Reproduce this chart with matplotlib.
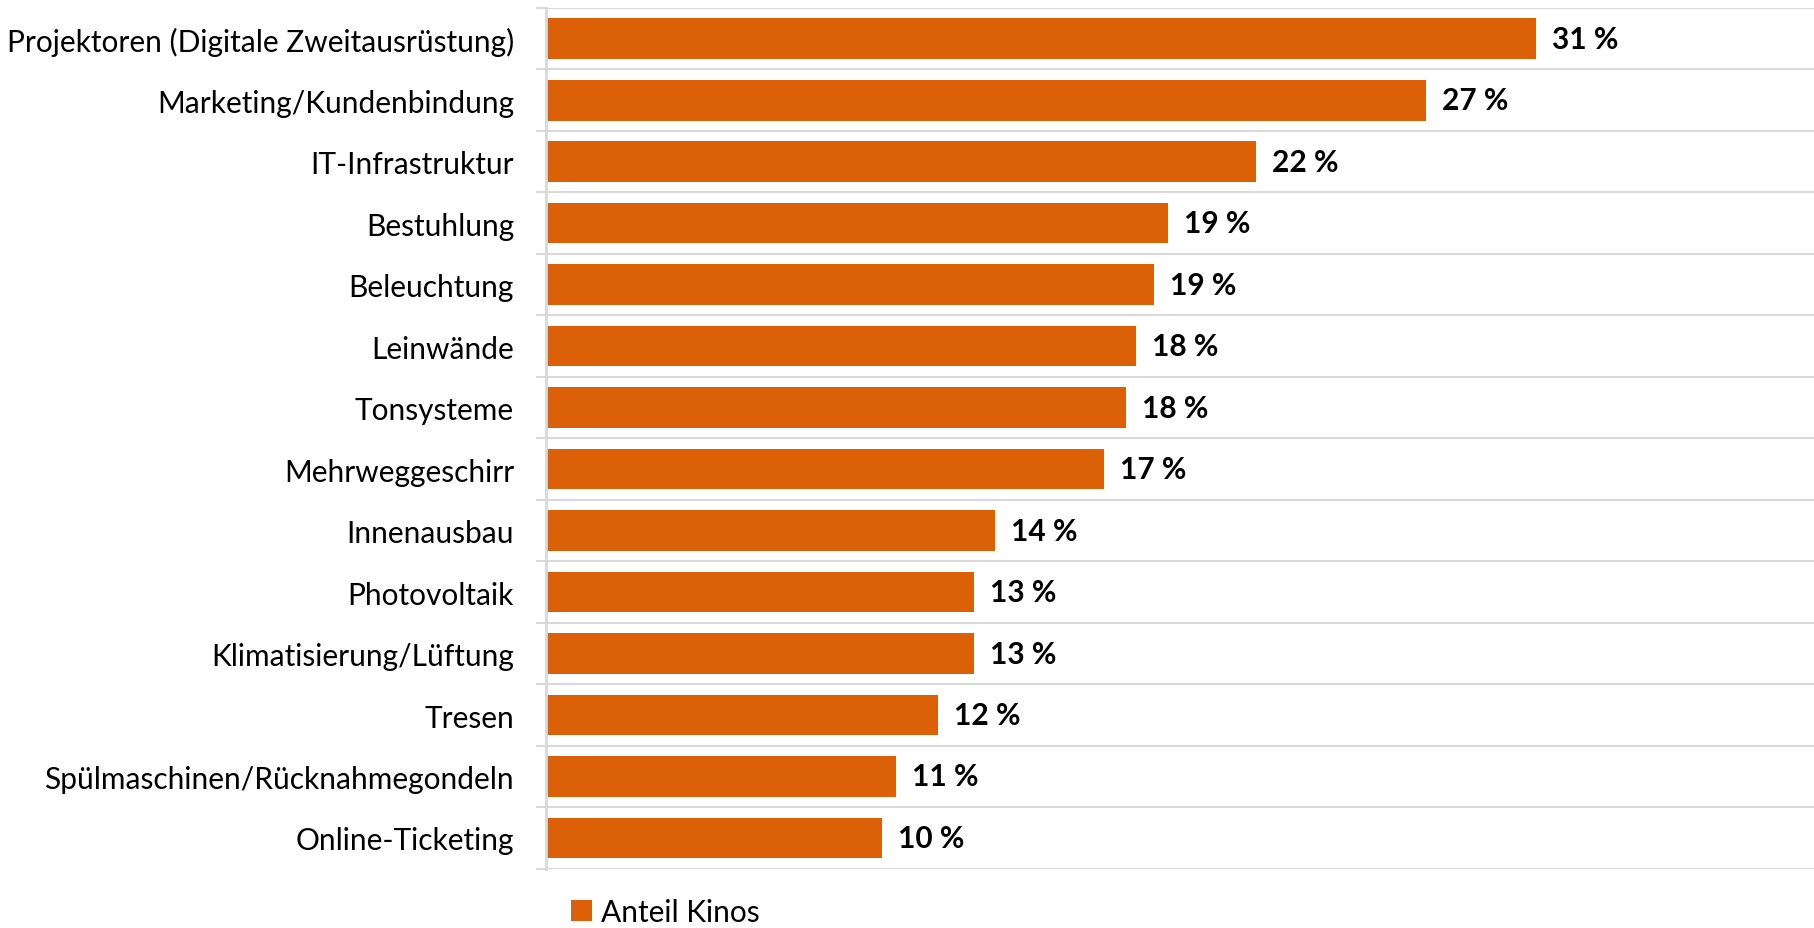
import matplotlib.pyplot as plt
from matplotlib.ticker import FixedLocator

# -------------------------------------------------------------------
# Data
# -------------------------------------------------------------------
categories = [
    "Projektoren (Digitale Zweitausrüstung)",
    "Marketing/Kundenbindung",
    "IT-Infrastruktur",
    "Bestuhlung",
    "Beleuchtung",
    "Leinwände",
    "Tonsysteme",
    "Mehrweggeschirr",
    "Innenausbau",
    "Photovoltaik",
    "Klimatisierung/Lüftung",
    "Tresen",
    "Spülmaschinen/Rücknahmegondeln",
    "Online-Ticketing",
]
values = [30.91, 27.48, 22.18, 19.42, 18.98, 18.43, 18.10,
          17.44, 14.02, 13.36, 13.36, 12.25, 10.92, 10.48]
series_name = "Anteil Kinos"

BAR_COLOR = "#DB6008"
GRID_COLOR = "#D9D9D9"
FONT = ["Lato", "DejaVu Sans"]
FS = 21.5

plt.rcParams["font.family"] = FONT

fig = plt.figure(figsize=(18.14, 9.29), dpi=100)
ax = fig.add_axes([546 / 1814, 1 - 869.7 / 929, 1 - 546 / 1814, (869.7 - 9) / 929])

pos = list(range(len(categories)))
ax.barh(pos, values, height=0.66, color=BAR_COLOR, label=series_name, zorder=3)

for y, v in zip(pos, values):
    ax.text(v + 0.5, y, f"{v:.0f} %", va="center", ha="left",
            fontsize=FS, fontweight="bold", color="black")

ax.set_ylim(len(categories) - 0.5, -0.5)
ax.set_xlim(0, 39.6)

ax.set_yticks(pos)
ax.set_yticklabels(categories, fontsize=FS)
ax.tick_params(axis="y", which="major", length=0, pad=23)
ax.yaxis.set_minor_locator(FixedLocator([p - 0.5 for p in pos] + [len(pos) - 0.5]))
ax.tick_params(axis="y", which="minor", length=7.2, width=1.5, color=GRID_COLOR)
ax.grid(axis="y", which="minor", color=GRID_COLOR, linewidth=1.5, zorder=0)
ax.set_xticks([])

for side in ["top", "right", "bottom"]:
    ax.spines[side].set_visible(False)
ax.spines["left"].set_color(GRID_COLOR)
ax.spines["left"].set_linewidth(2)
ax.spines["left"].set_zorder(4)

fig.legend(loc="upper left", bbox_to_anchor=(571 / 1814, 1 - 899 / 929),
           frameon=False, fontsize=FS, handlelength=0.7, handleheight=0.7,
           handletextpad=0.3, borderpad=0, borderaxespad=0)

fig.savefig("out.png", dpi=100)
